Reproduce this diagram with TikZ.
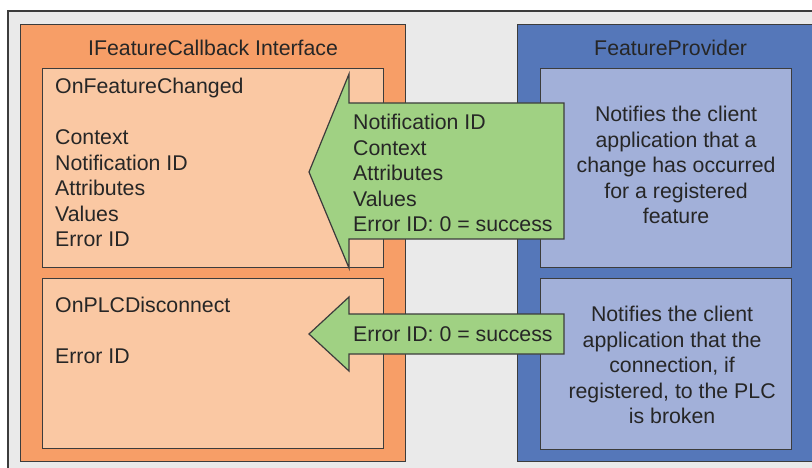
\documentclass[tikz,border=0pt]{standalone}
\usepackage{fontspec}
\setmainfont{Liberation Sans}
\usetikzlibrary{positioning}

\definecolor{panelgray}{HTML}{EAEAEA}
\definecolor{cborange}{HTML}{F79E67}
\definecolor{cblight}{HTML}{FAC8A3}
\definecolor{fpblue}{HTML}{5577B9}
\definecolor{fplight}{HTML}{A2B0D9}
\definecolor{msggreen}{HTML}{A0D183}
\definecolor{edge}{HTML}{3C3C3C}
\definecolor{ink}{HTML}{262626}

\begin{document}
\begin{tikzpicture}[x=1pt, y=-1pt,
  every node/.style={font=\fontsize{21.3}{25.5}\selectfont, text=ink, inner sep=0pt},
  box/.style={draw=edge, line width=1.2pt, rectangle, anchor=north west},
  msg/.style={fill=msggreen, draw=edge, line width=1.2pt}]
\useasboundingbox (0,0) rectangle (812,468);
\fill[panelgray] (8,11) rectangle (812,468);   % grey panel, runs off the right and bottom
\draw[edge, line width=1.6pt] (8,468) -- (8,11) -- (812,11);

% the two sides
\node[box, fill=cborange, minimum width=385, minimum height=437] (callback) at (20,24) {};
\node[box, fill=fpblue, minimum width=306, minimum height=437] (provider) at (517,24) {};
\node[below=16pt of callback.north] (cbtitle) {IFeatureCallback Interface};
\node[below=16pt of provider.north] (fptitle) {FeatureProvider};

\node[box, fill=cblight, minimum width=341, minimum height=199] (changed) at (42,68) {};
\node[box, fill=cblight, minimum width=341, minimum height=170] (disconnect) at (42,278) {};
\node[box, fill=fplight, minimum width=251, minimum height=199] (notechanged) at (540,68) {};
\node[box, fill=fplight, minimum width=251, minimum height=171] (notedisc) at (540,278) {};

\node[anchor=north west, align=left] (changedtext) at ([xshift=13pt, yshift=-10pt]changed.north west)
  {OnFeatureChanged\\[25.5pt]Context\\Notification ID\\Attributes\\Values\\Error ID};
\node[anchor=north west, align=left] (disctext) at ([xshift=13pt, yshift=-19pt]disconnect.north west)
  {OnPLCDisconnect\\[25.5pt]Error ID};

\node[align=center, xshift=10pt, yshift=3pt] (changednote) at (notechanged.center)
  {Notifies the client\\application that a\\change has occurred\\for a registered\\feature};
\node[align=center, xshift=6pt, yshift=-1pt] (discnote) at (notedisc.center)
  {Notifies the client\\application that the\\connection, if\\registered, to the PLC\\is broken};

% green arrows carrying the callback data
\filldraw[msg] (309,172) -- (349,74) -- (349,103) -- (564,103) -- (564,239) -- (349,239) -- (349,268) -- cycle;
\filldraw[msg] (309,334) -- (349,297) -- (349,314) -- (564,314) -- (564,354) -- (349,354) -- (349,371) -- cycle;
\node[anchor=north west, align=left] (changemsg) at (353,114)
  {Notification ID\\Context\\Attributes\\Values\\Error ID: 0 = success};
\node[anchor=west] (discmsg) at (353,334) {Error ID: 0 = success};
\end{tikzpicture}
\end{document}
